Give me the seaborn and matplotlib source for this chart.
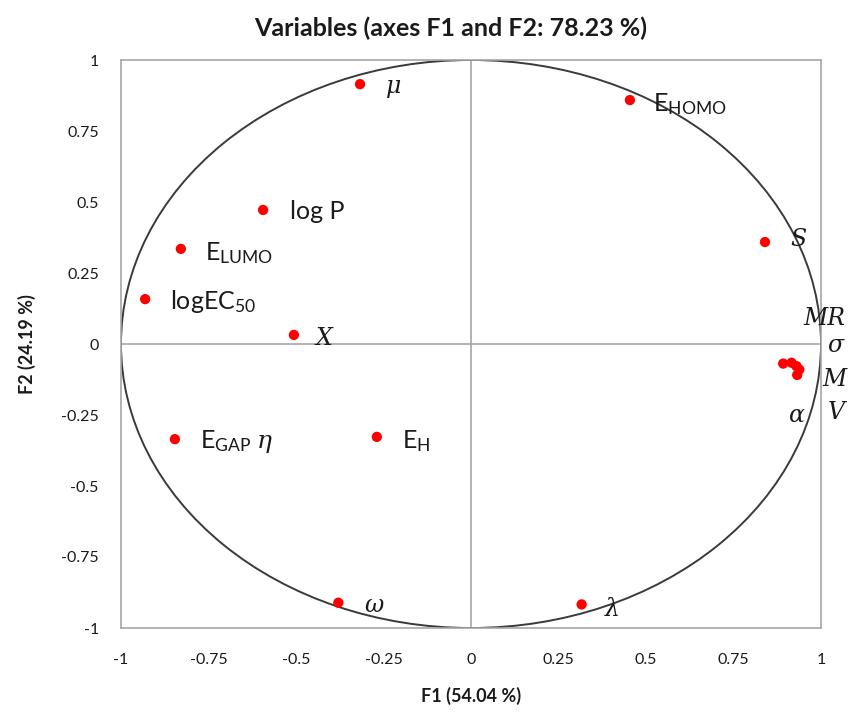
import matplotlib
matplotlib.use("Agg")
import matplotlib.pyplot as plt
import seaborn as sns
import pandas as pd
from matplotlib.patches import Circle

# ---- data ----
names = ["mu", "EHOMO", "logP", "ELUMO", "logEC50", "X", "S",
         "MR", "sigma", "alpha", "M", "V",
         "EGAP_eta", "EH", "omega", "lambda"]
f1 = [-0.317, 0.454, -0.594, -0.829, -0.931, -0.506, 0.840,
      0.892, 0.916, 0.930, 0.938, 0.932,
      -0.846, -0.269, -0.379, 0.316]
f2 = [0.915, 0.859, 0.472, 0.335, 0.158, 0.032, 0.359,
      -0.069, -0.066, -0.078, -0.090, -0.109,
      -0.335, -0.327, -0.911, -0.917]
label_text = {
    "mu": r"$\mu$", "EHOMO": r"E$_\mathregular{HOMO}$", "logP": "log P",
    "ELUMO": r"E$_\mathregular{LUMO}$", "logEC50": r"logEC$_\mathregular{50}$",
    "X": "X", "S": "S", "MR": "MR", "sigma": r"$\sigma$", "alpha": r"$\alpha$",
    "M": "M", "V": "V", "EGAP_eta": r"E$_\mathregular{GAP}$ $\eta$",
    "EH": r"E$_\mathregular{H}$", "omega": r"$\omega$", "lambda": r"$\lambda$",
}
italic = {"mu", "X", "S", "MR", "sigma", "alpha", "M", "V", "omega", "lambda"}
ticks = [-1, -0.75, -0.5, -0.25, 0, 0.25, 0.5, 0.75, 1]
tick_labels = ["-1", "-0.75", "-0.5", "-0.25", "0", "0.25", "0.5", "0.75", "1"]
title = "Variables (axes F1 and F2: 78.23 %)"
xlabel = "F1 (54.04 %)"
ylabel = "F2 (24.19 %)"

# label offsets in pixels (dx, dy) relative to the point
offsets = {
    "mu": (25, -4), "EHOMO": (23, -4), "logP": (27, -2), "ELUMO": (24, -4),
    "logEC50": (25, -2), "X": (22, -4), "S": (25, 3), "MR": (20, 45),
    "sigma": (35, 17), "alpha": (-9, -49), "M": (23, -10), "V": (31, -38),
    "EGAP_eta": (25, -2), "EH": (25, -4), "omega": (26, -3), "lambda": (22, -5),
}

df = pd.DataFrame({"name": names, "F1": f1, "F2": f2})

sns.set_theme(style="white")
plt.rcParams["font.family"] = ["Lato", "DejaVu Sans"]
plt.rcParams["mathtext.fontset"] = "custom"
plt.rcParams["mathtext.rm"] = "Lato"
plt.rcParams["mathtext.it"] = "DejaVu Serif:italic"

fig = plt.figure(figsize=(8.48, 7.12), dpi=100)
ax = fig.add_axes([121 / 848, 84 / 712, 700 / 848, 568 / 712])

ax.add_patch(Circle((0, 0), 1, fill=False, edgecolor="#3a3a3a", lw=1.4, zorder=2))
ax.axhline(0, color="#a6a6a6", lw=1.2, zorder=1)
ax.axvline(0, color="#a6a6a6", lw=1.2, zorder=1)

sns.scatterplot(data=df, x="F1", y="F2", color="red", s=55, edgecolor="none",
                ax=ax, zorder=3, legend=False)

for n, x, y in zip(names, f1, f2):
    dx, dy = offsets[n]
    ax.annotate(label_text[n], (x, y), xytext=(dx, dy), textcoords="offset pixels",
                ha="left", va="center", fontsize=17 if n in italic else 18,
                color="#1a1a1a",
                fontstyle="italic" if n in italic else "normal",
                family=["DejaVu Serif"] if n in italic else ["Lato", "DejaVu Sans"])

ax.set_xlim(-1, 1)
ax.set_ylim(-1, 1)
ax.set_xticks(ticks)
ax.set_xticklabels(tick_labels)
ax.set_yticks(ticks)
ax.set_yticklabels(tick_labels)
ax.tick_params(axis="both", length=0, labelsize=11.5, colors="#1a1a1a")
ax.tick_params(axis="x", pad=18)
ax.tick_params(axis="y", pad=16)
for sp in ax.spines.values():
    sp.set_color("#a6a6a6")
    sp.set_linewidth(1.2)

ax.set_title(title, fontsize=18, fontweight="bold", pad=17, color="#1a1a1a", x=0.471)
ax.set_xlabel(xlabel, fontsize=13, fontweight="bold", labelpad=14, color="#1a1a1a")
ax.set_ylabel(ylabel, fontsize=13, fontweight="bold", labelpad=18, color="#1a1a1a")

fig.savefig("out.png", dpi=100, facecolor="white")
